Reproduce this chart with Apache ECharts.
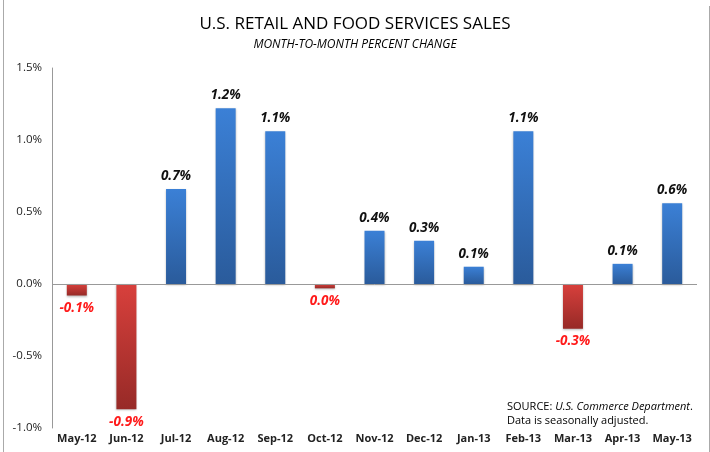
<!DOCTYPE html>
<html>
<head>
<meta charset="utf-8">
<script src="https://cdn.jsdelivr.net/npm/echarts@6/dist/echarts.min.js"></script>
<style>
  html, body { margin: 0; padding: 0; background: #fff; }
  #chart { width: 710px; height: 452px; }
</style>
</head>
<body>
<div id="chart"></div>
<script>
// 月份
var months = ['May-12', 'Jun-12', 'Jul-12', 'Aug-12', 'Sep-12', 'Oct-12', 'Nov-12',
    'Dec-12', 'Jan-13', 'Feb-13', 'Mar-13', 'Apr-13', 'May-13'];
// 环比变化 (%)
var changes = [-0.08, -0.87, 0.66, 1.22, 1.06, -0.03, 0.37, 0.30, 0.12, 1.06, -0.31, 0.14, 0.56];
// y轴刻度
var yTicks = { min: -1.0, max: 1.5, step: 0.5 };

var font = '"Open Sans", "Liberation Sans", sans-serif';

function fmt(v) {
    return (Math.round(v * 10) / 10).toFixed(1) + '%';
}

var blueGrad = new echarts.graphic.LinearGradient(0, 0, 0, 1, [
    { offset: 0, color: '#3b80d6' },
    { offset: 1, color: '#2a5b9b' }
]);
var redGrad = new echarts.graphic.LinearGradient(0, 0, 0, 1, [
    { offset: 0, color: '#d8403c' },
    { offset: 1, color: '#972a27' }
]);

var barData = changes.map(function (v) {
    var neg = v < 0;
    return {
        value: v,
        itemStyle: { color: neg ? redGrad : blueGrad },
        label: {
            position: neg ? 'bottom' : 'top',
            color: neg ? '#ff1a1a' : '#111'
        }
    };
});

var myChart = echarts.init(document.getElementById('chart'));
var option = {
    animation: false,
    title: {
        text: 'U.S. RETAIL AND FOOD SERVICES SALES',
        subtext: 'MONTH-TO-MONTH PERCENT CHANGE',
        left: 'center',
        top: 11,
        itemGap: 6,
        textStyle: { fontFamily: font, fontSize: 17, fontWeight: 'normal', color: '#000' },
        subtextStyle: { fontFamily: font, fontSize: 12, fontStyle: 'italic', color: '#000' }
    },
    grid: { left: 52, right: 13, top: 68, bottom: 24 },
    xAxis: {
        type: 'category',
        data: months,
        axisLine: { show: false },
        axisTick: { show: false },
        axisLabel: {
            interval: 0,
            fontFamily: font, fontSize: 11, fontWeight: 'bold', color: '#222', margin: 5
        }
    },
    yAxis: {
        type: 'value',
        min: yTicks.min,
        max: yTicks.max,
        interval: yTicks.step,
        splitLine: { show: false },
        axisTick: { show: false },
        axisLine: { show: true, lineStyle: { color: '#999', width: 1 } },
        axisLabel: {
            fontFamily: font, fontSize: 11.5, color: '#222', margin: 10,
            formatter: function (v) { return v.toFixed(1) + '%'; }
        }
    },
    series: [{
        type: 'bar',
        data: barData,
        barWidth: 20,
        itemStyle: { shadowColor: 'rgba(0,0,0,0.25)', shadowBlur: 2, shadowOffsetY: 1 },
        label: {
            show: true,
            distance: 6,
            fontFamily: font,
            fontSize: 13.5,
            fontWeight: 'bold',
            fontStyle: 'italic',
            formatter: function (p) { return fmt(p.value); }
        },
        markLine: {
            silent: true,
            symbol: 'none',
            label: { show: false },
            lineStyle: { color: '#999', width: 1, type: 'solid' },
            data: [{ yAxis: 0 }]
        }
    }],
    graphic: [
        { type: 'line', shape: { x1: 3.5, y1: 0, x2: 3.5, y2: 452 }, style: { stroke: '#aaa', lineWidth: 1 } },
        { type: 'line', shape: { x1: 709.5, y1: 6, x2: 709.5, y2: 452 }, style: { stroke: '#aaa', lineWidth: 1 } },
        {
            type: 'text', left: 507, top: 401,
            style: {
                rich: {
                    n: { fontFamily: font, fontSize: 11, color: '#111', lineHeight: 14 },
                    i: { fontFamily: font, fontSize: 11, fontStyle: 'italic', color: '#111', lineHeight: 14 }
                },
                text: '{n|SOURCE: }{i|U.S. Commerce Department}{n|.}\n{n|Data is seasonally adjusted.}'
            }
        }
    ]
};
myChart.setOption(option);
</script>
</body>
</html>
